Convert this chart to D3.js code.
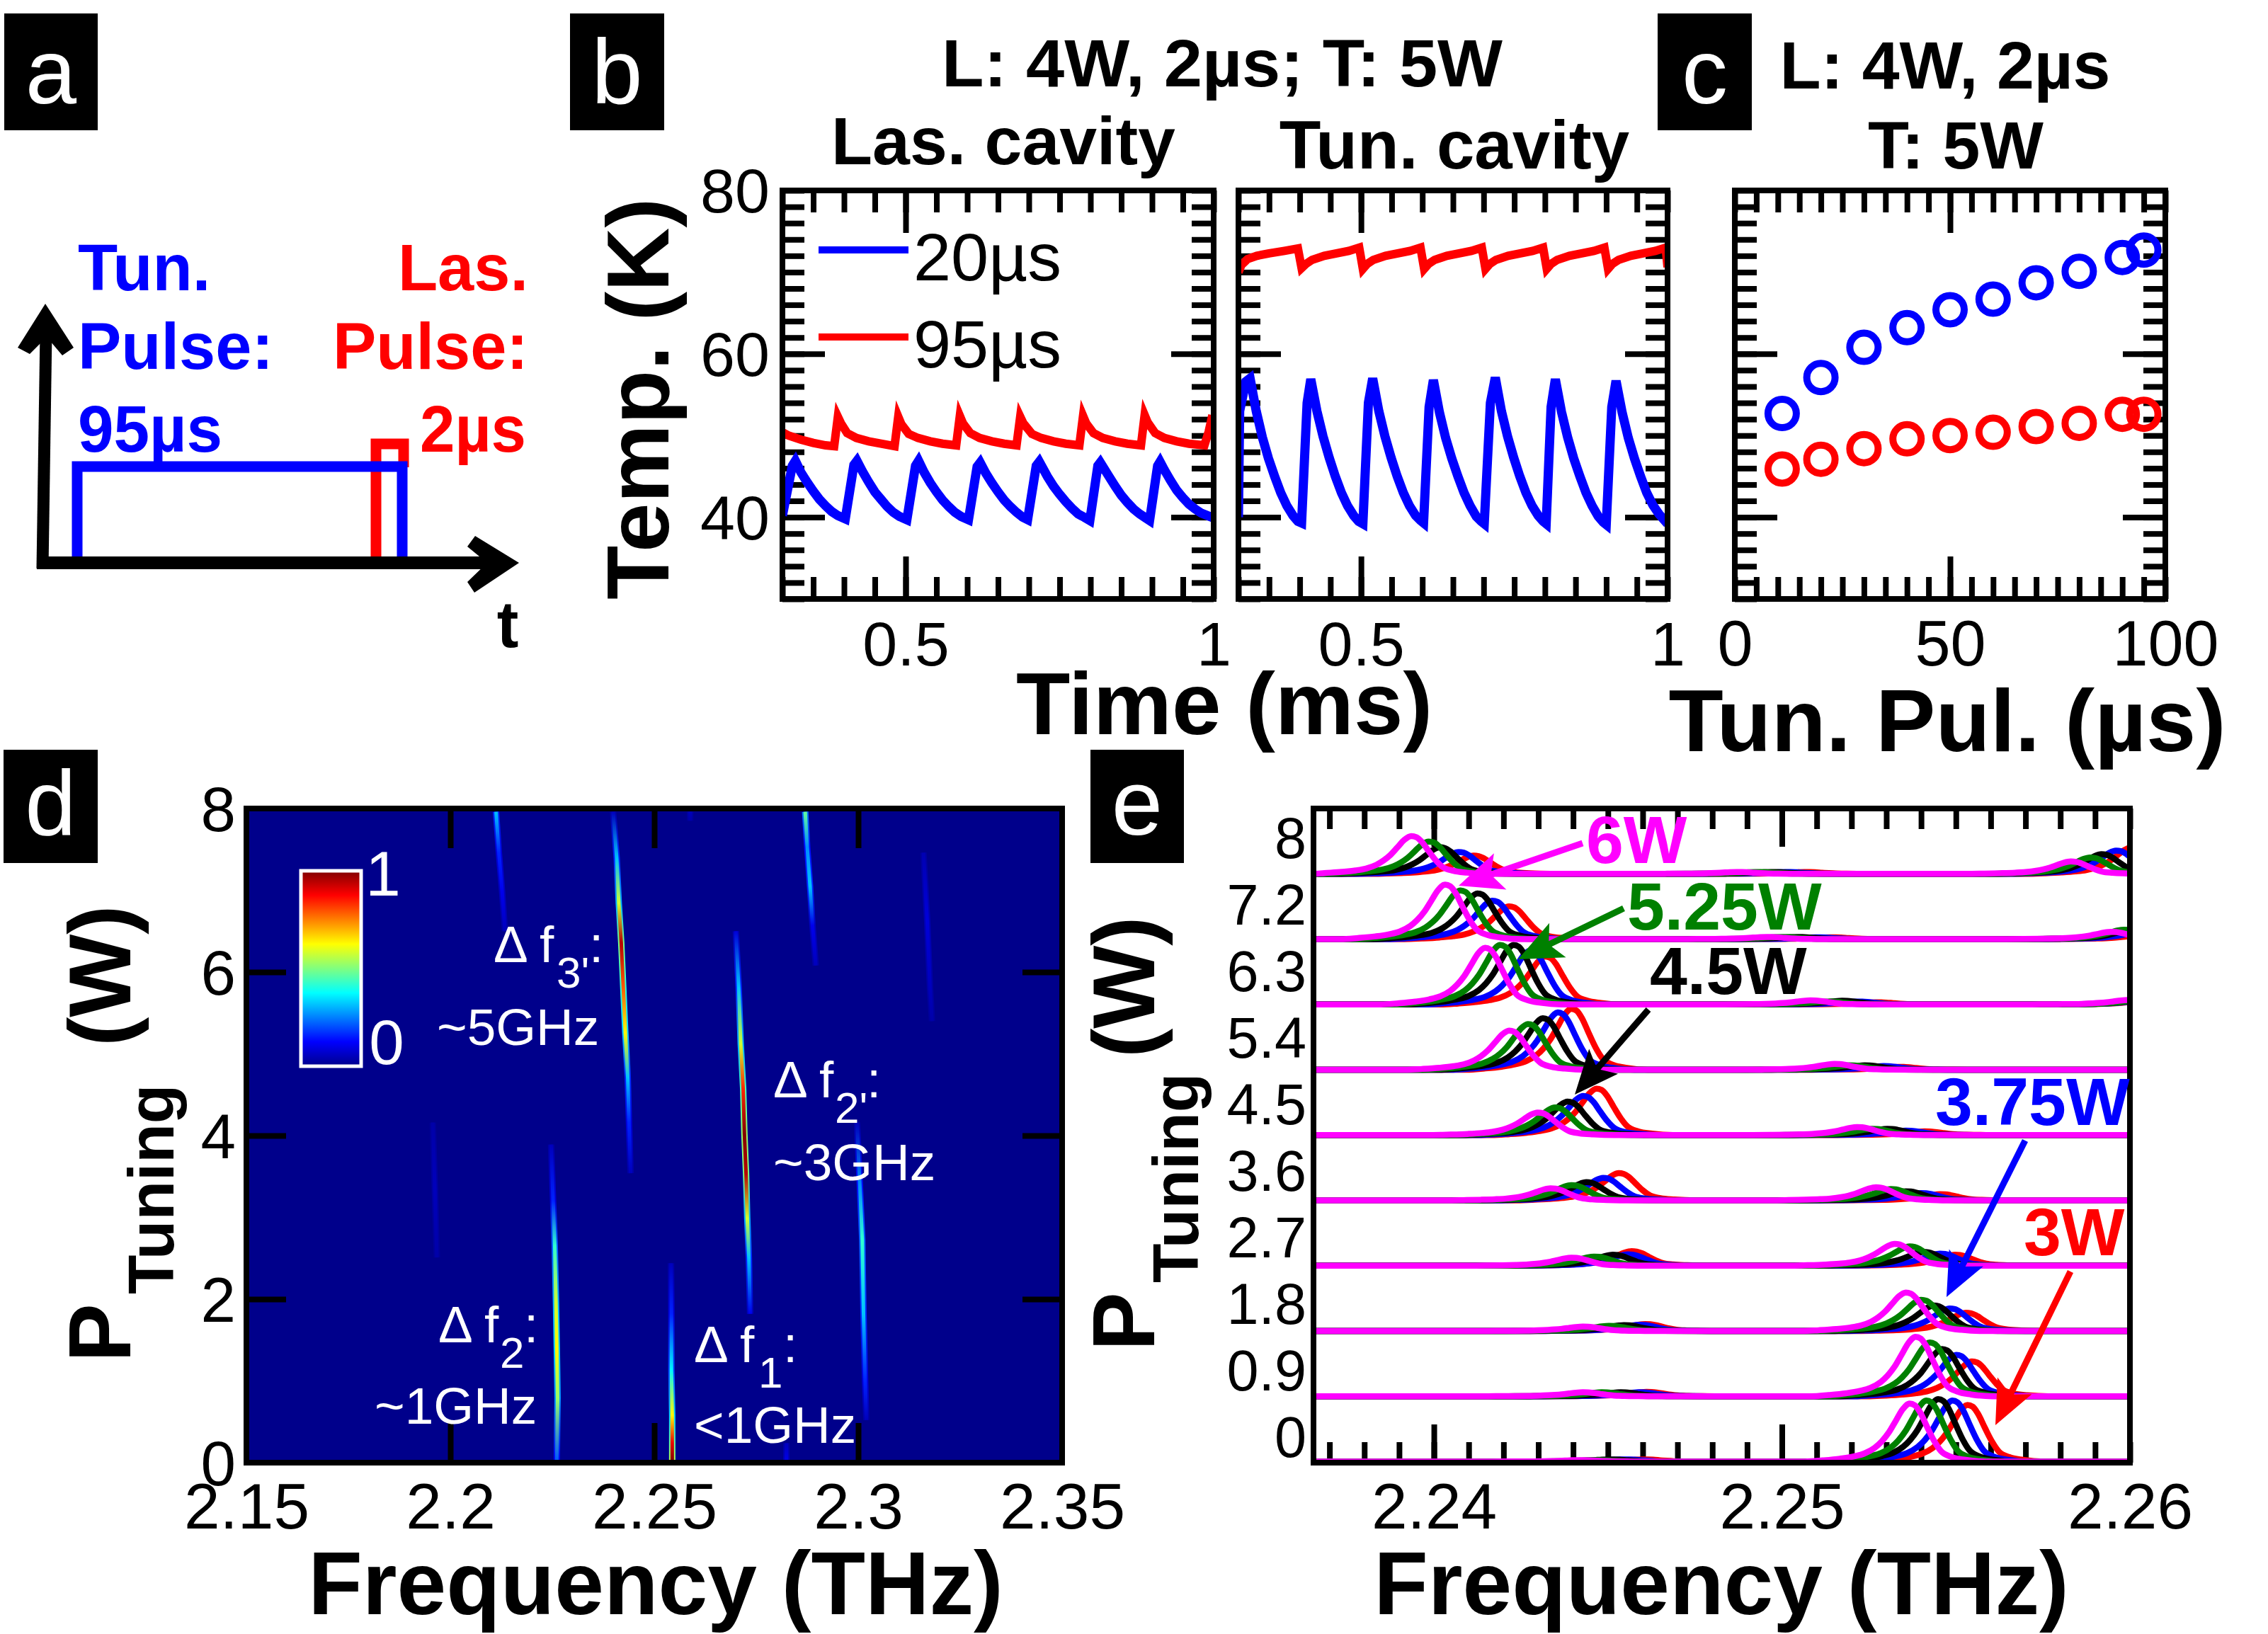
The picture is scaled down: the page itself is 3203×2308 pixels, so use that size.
<!DOCTYPE html>
<html><head><meta charset="utf-8">
<script src="https://cdn.jsdelivr.net/npm/d3@7/dist/d3.min.js"></script>
<style>html,body{margin:0;padding:0;background:#fff}svg{display:block}text{font-family:"Liberation Sans",Arial,sans-serif}</style>
</head><body><svg id="c" width="3203" height="2308"></svg>
<script>
// ---------- panel b data: [time ms, temperature K]
const lasBlue=[[.3,40.2],[.316,46.3],[.321,46.9],[.33,45.5],[.34,44.3],[.35,43.2],[.36,42.2],[.37,41.4],[.38,40.7],[.39,40.2],[.402,39.8],[.416,46.4],[.421,46.9],[.43,45.6],[.44,44.3],[.45,43.1],[.46,42.2],[.47,41.3],[.48,40.6],[.49,40.1],[.502,39.7],[.516,46.3],[.521,46.9],[.53,45.5],[.54,44.2],[.55,43.1],[.56,42.1],[.57,41.3],[.58,40.6],[.59,40.1],[.602,39.7],[.616,46.2],[.621,46.7],[.63,45.4],[.64,44.2],[.65,43.1],[.66,42.1],[.67,41.3],[.68,40.6],[.69,40],[.698,39.7],[.712,46.3],[.717,46.8],[.73,45],[.74,43.8],[.75,42.8],[.76,41.9],[.77,41.1],[.78,40.4],[.79,40],[.799,39.6],[.812,46.3],[.816,46.7],[.83,45],[.84,43.8],[.85,42.7],[.86,41.8],[.87,41],[.88,40.4],[.89,39.9],[.896,39.6],[.909,46.3],[.913,46.8],[.92,45.8],[.93,44.5],[.94,43.3],[.95,42.4],[.96,41.6],[.97,41],[.98,40.5],[.99,40.2],[1,39.9]];
const lasRed=[[.3,50.4],[.31,50],[.33,49.5],[.35,49.1],[.37,48.8],[.384,48.7],[.39,52.3],[.395,51.5],[.405,50.3],[.42,49.7],[.44,49.3],[.46,49],[.482,48.7],[.488,52.3],[.493,51.4],[.505,50.2],[.52,49.7],[.54,49.3],[.56,49],[.582,48.8],[.588,52.4],[.593,51.5],[.605,50.3],[.62,49.7],[.64,49.3],[.66,49],[.68,48.8],[.686,52.3],[.691,51.5],[.705,50.2],[.72,49.7],[.74,49.3],[.76,49],[.782,48.8],[.788,52.4],[.793,51.5],[.805,50.3],[.82,49.7],[.84,49.3],[.86,49],[.882,48.8],[.888,52.5],[.893,51.6],[.905,50.3],[.92,49.7],[.94,49.3],[.96,49],[.985,48.8],[.992,50.5],[.998,52.5]];
const tunBlue=[[.3,40],[.302,53],[.312,56.6],[.319,57],[.329,53],[.339,49.8],[.349,47.2],[.359,45],[.369,43],[.379,41.4],[.389,40.2],[.397,39.5],[.403,39.3],[.412,54],[.418,56.9],[.428,53],[.438,49.9],[.448,47.3],[.458,45],[.468,43],[.478,41.4],[.488,40.2],[.496,39.5],[.503,39.2],[.512,54],[.519,57],[.529,53],[.539,49.9],[.549,47.3],[.559,45],[.569,43],[.579,41.4],[.589,40.2],[.597,39.6],[.602,39.3],[.611,53.5],[.618,56.8],[.628,52.8],[.638,49.7],[.648,47.2],[.658,45],[.668,43],[.678,41.4],[.688,40.1],[.696,39.5],[.701,39.2],[.711,54],[.719,57.1],[.729,53],[.739,49.9],[.749,47.3],[.759,45],[.769,43],[.779,41.4],[.789,40.2],[.797,39.5],[.802,39.2],[.81,53.5],[.817,56.9],[.827,52.9],[.837,49.8],[.847,47.2],[.857,45],[.867,43],[.877,41.4],[.887,40.1],[.895,39.4],[.9,39.1],[.909,53.5],[.916,56.7],[.926,52.8],[.936,49.7],[.946,47.2],[.956,45],[.966,43],[.976,41.5],[.986,40.4],[.994,39.7],[1,39.2]];
const tunRed=[[.3,70],[.305,70.9],[.315,71.6],[.33,72],[.35,72.3],[.375,72.6],[.397,72.9],[.403,70.5],[.41,71],[.42,71.5],[.44,72],[.46,72.3],[.48,72.6],[.497,73],[.503,70.4],[.51,71],[.52,71.5],[.54,72],[.56,72.3],[.58,72.6],[.597,73],[.603,70.4],[.61,71],[.62,71.5],[.64,72],[.66,72.3],[.68,72.6],[.697,73],[.703,70.4],[.71,71],[.72,71.5],[.74,72],[.76,72.3],[.78,72.6],[.797,73],[.803,70.4],[.81,71],[.82,71.5],[.84,72],[.86,72.3],[.88,72.6],[.897,73],[.903,70.4],[.91,71],[.92,71.5],[.94,72],[.96,72.3],[.98,72.6],[.997,73],[1,70.6]];
const pulseWidths=[11,20,30,40,50,60,70,80,90,95];
const tempTun=[52.7,57.1,60.8,63.2,65.4,66.7,68.7,70.1,71.8,72.7];
const tempLas=[45.9,47.1,48.4,49.6,50,50.4,51.1,51.5,52.6,52.6];
// ---------- panel d data: streaks [freq, power, intensity]
const streaks=[
[[2.2541,2.44,.05],[2.2542,1.82,.15],[2.2542,1.13,.35],[2.2544,.58,.6],[2.2544,.24,.85],[2.2544,.02,1]],
[[2.2247,3.89,.05],[2.2252,3.2,.15],[2.2256,2.65,.4],[2.2259,1.96,.55],[2.2261,1.41,.6],[2.2263,.79,.5],[2.2261,.03,.2]],
[[2.27,6.5,.08],[2.2707,5.81,.3],[2.2712,5.12,.55],[2.2718,4.57,.8],[2.2721,4.02,.95],[2.2725,3.54,.9],[2.2728,2.99,.55],[2.2732,2.51,.3],[2.2735,1.82,.1]],
[[2.2399,7.96,.05],[2.2408,7.39,.3],[2.2413,6.84,.55],[2.2419,6.36,.9],[2.2424,5.81,.75],[2.2429,5.26,.6],[2.2435,4.71,.3],[2.2438,4.16,.15],[2.2442,3.54,.05]],
[[2.2997,4.16,.05],[2.3004,3.4,.25],[2.301,2.72,.4],[2.3013,1.82,.3],[2.3017,1,.15],[2.302,.52,.05]],
[[2.2112,7.96,.3],[2.2119,7.46,.15],[2.2127,6.98,.1],[2.2134,6.5,.05]],
[[2.287,7.96,.45],[2.2875,7.53,.25],[2.2882,7.05,.3],[2.2888,6.57,.1],[2.2896,6.08,.05]],
[[2.316,7.46,.04],[2.3169,6.64,.08],[2.3176,5.81,.05],[2.3181,5.4,.03]],
[[2.1957,4.16,.03],[2.1962,3.35,.05],[2.1967,2.51,.03]],
[[2.2824,.24,.05],[2.2824,0,.1]],
[[2.2588,7.96,.05],[2.2588,7.85,.03]]];
const jetStops=[0,.125,.375,.625,.875,1];
const jetColors=["#00008b","#0000ff","#00ffff","#ffff00","#ff0000","#800000"];
// ---------- panel e data. rows bottom to top; within a row: 3W, 3.75W, 4.5W, 5.25W, 6W
const powerNames=["3W","3.75W","4.5W","5.25W","6W"];
const powerColors=["#ff0000","#0000ff","#000000","#008000","#ff00ff"];
const rowPower=[0,.9,1.8,2.7,3.6,4.5,5.4,6.3,7.2,8.1];
const rowLabels=["0","0.9","1.8","2.7","3.6","4.5","5.4","6.3","7.2","8"];
const highFreq=[[2.25533,2.2549,2.25449,2.25415,2.25367],[2.25546,2.25501,2.2546,2.25425,2.25384],[2.25529,2.25482,2.25436,2.254,2.25356],[2.25497,2.25454,2.25406,2.25367,2.25324],[2.25454,2.254,2.25356,2.25313,2.2527],[2.2541,2.25356,2.25302,2.25259,2.25216],[2.25335,2.25292,2.25238,2.25194,2.25151],[2.2527,2.25216,2.25173,2.2513,2.25082],[2.2514,2.25097,2.25043,2.25,2.24957],[2.25065,2.2501,2.24968,2.24924,2.2487]];
const highHeight=[[.78,.84,.86,.84,.8],[.48,.57,.65,.74,.82],[.25,.31,.35,.43,.53],[.15,.165,.19,.265,.3],[.085,.1,.125,.155,.18],[.05,.06,.085,.085,.11],[.04,.05,.06,.06,.08],[.03,.04,.05,.04,.055],[.025,.025,.03,.03,.03],[.025,.025,.025,.025,.025]];
const lowFreq=[[2.246,2.24546,2.24503,2.2446,2.24417],[2.24611,2.2459,2.24536,2.24482,2.24428],[2.24607,2.2459,2.24546,2.24503,2.24428],[2.24568,2.24557,2.24514,2.2446,2.24395],[2.24531,2.24486,2.24438,2.24395,2.24335],[2.24467,2.24428,2.24384,2.24348,2.24298],[2.24395,2.24356,2.24313,2.2427,2.24216],[2.2432,2.24276,2.24229,2.2419,2.24147],[2.24216,2.24168,2.24125,2.24076,2.24032],[2.24114,2.24071,2.24017,2.23985,2.23935]];
const lowHeight=[[.03,.03,.03,.02,.02],[.06,.055,.055,.055,.055],[.095,.085,.08,.07,.06],[.2,.155,.15,.125,.11],[.375,.31,.25,.21,.165],[.64,.54,.46,.38,.31],[.84,.79,.71,.63,.54],[.66,.74,.82,.82,.78],[.45,.53,.63,.67,.75],[.25,.3,.365,.445,.52]];
const edgeFreq=[[],[],[],[],[],[],[],[2.2604,2.2603,2.2602,2.2603,2.25993],[2.2606,2.2603,2.26,2.25983,2.25946],[2.26004,2.2596,2.25918,2.25885,2.2583]];
const edgeHeight=[[],[],[],[],[],[],[],[.05,.05,.05,.06,.06],[.09,.1,.12,.13,.1],[.365,.32,.27,.225,.17]];
// line shape read from the isolated peaks: offset from peak (THz), relative height
const shapeOffset=[-.003,-.0025,-.002,-.0016,-.0013,-.001,-.0008,-.0006,-.0004,-.0002,0,.00015,.0003,.0005,.0007,.0009,.0012,.0016,.0022];
const shapeValue=[0,.02,.05,.09,.14,.24,.35,.5,.7,.9,1,.97,.85,.6,.36,.18,.08,.03,0];

const svg=d3.select("#c");
const FONT='"Liberation Sans",Arial,sans-serif';
function txt(s,x,y,size,opt={}){
  const t=svg.append("text").attr("x",x).attr("y",y).attr("font-size",size)
   .attr("font-family",FONT).attr("font-weight",opt.bold?"bold":"normal")
   .attr("fill",opt.fill||"#000").attr("text-anchor",opt.anchor||"start").text(s);
  if(opt.rotate) t.attr("transform",`rotate(-90 ${x} ${y})`);
  if(opt.len) t.attr("textLength",opt.len).attr("lengthAdjust","spacingAndGlyphs");
  return t;
}
function boxLabel(s,x0,x1,y0,y1,base){
  svg.append("rect").attr("x",x0).attr("y",y0).attr("width",x1-x0).attr("height",y1-y0).attr("fill","#000");
  txt(s,(x0+x1)/2,base,130,{fill:"#fff",anchor:"middle"});
}
function ticks(g,x,y,xVals,yVals,w){
  const [x0,x1]=x.range(),[y0,y1]=y.range();
  const style=s=>{s.select(".domain").remove();s.selectAll("line").attr("stroke","#000").attr("stroke-width",w);};
  xVals.forEach(([vals,len])=>{
    g.append("g").attr("transform",`translate(0,${y0})`).call(d3.axisBottom(x).tickValues(vals).tickSize(-len).tickFormat("")).call(style);
    g.append("g").attr("transform",`translate(0,${y1})`).call(d3.axisTop(x).tickValues(vals).tickSize(-len).tickFormat("")).call(style);
  });
  yVals.forEach(([vals,len])=>{
    g.append("g").attr("transform",`translate(${x0},0)`).call(d3.axisLeft(y).tickValues(vals).tickSize(-len).tickFormat("")).call(style);
    g.append("g").attr("transform",`translate(${x1},0)`).call(d3.axisRight(y).tickValues(vals).tickSize(-len).tickFormat("")).call(style);
  });
}
function labelsX(g,x,yPos,vals,fmt,size){
  const a=g.append("g").attr("transform",`translate(0,${yPos})`).call(d3.axisBottom(x).tickValues(vals).tickSize(0).tickPadding(0).tickFormat(fmt));
  a.select(".domain").remove();
  a.selectAll("text").attr("font-size",size).attr("font-family",FONT).attr("fill","#000").attr("dy",0).attr("y",0);
}
function labelsY(g,y,xPos,vals,fmt,size){
  const a=g.append("g").attr("transform",`translate(${xPos},0)`).call(d3.axisLeft(y).tickValues(vals).tickSize(0).tickPadding(0).tickFormat(fmt));
  a.select(".domain").remove();
  a.selectAll("text").attr("font-size",size).attr("font-family",FONT).attr("fill","#000").attr("x",0).attr("dy",".35em");
}
function frame(g,x,y,w){
  const [x0,x1]=x.range(),[y0,y1]=y.range();
  g.append("rect").attr("x",x0).attr("y",y1).attr("width",x1-x0).attr("height",y0-y1).attr("fill","none").attr("stroke","#000").attr("stroke-width",w);
}
let clipId=0;
function clip(g,x,y){
  const id="clip"+(clipId++),[x0,x1]=x.range(),[y0,y1]=y.range();
  g.append("clipPath").attr("id",id).append("rect").attr("x",x0).attr("y",y1).attr("width",x1-x0).attr("height",y0-y1);
  return g.append("g").attr("clip-path",`url(#${id})`);
}
function arrow(x1,y1,x2,y2,color){
  const dx=x2-x1,dy=y2-y1,L=Math.hypot(dx,dy),ux=dx/L,uy=dy/L,nx=-uy,ny=ux,h=62,hw=27;
  svg.append("line").attr("x1",x1).attr("y1",y1).attr("x2",x2-ux*30).attr("y2",y2-uy*30).attr("stroke",color).attr("stroke-width",9);
  const bx=x2-ux*h,by=y2-uy*h;
  svg.append("path").attr("fill",color).attr("d",`M${x2},${y2}L${bx+nx*hw},${by+ny*hw}L${bx+ux*14},${by+uy*14}L${bx-nx*hw},${by-ny*hw}Z`);
}

// ---------- panel labels
boxLabel("a",6,138,19,184,146);
boxLabel("b",805,938,19,184,146);
boxLabel("c",2341,2474,19,184,146);
boxLabel("d",5,138,1059,1219,1179);
boxLabel("e",1540,1672,1059,1219,1179);

// ---------- panel a
svg.append("path").attr("d","M531,795V627H570V660").attr("fill","none").attr("stroke","#ff0000").attr("stroke-width",15);
svg.append("path").attr("d","M109,795V659H568V795").attr("fill","none").attr("stroke","#0000ff").attr("stroke-width",15);
svg.append("path").attr("d","M60,803L65,470").attr("fill","none").attr("stroke","#000").attr("stroke-width",17);
svg.append("path").attr("d","M52,795H700").attr("fill","none").attr("stroke","#000").attr("stroke-width",18);
svg.append("path").attr("fill","#000").attr("d","M64,429L104,491L88,502L66,476L42,500L25,491Z");
svg.append("path").attr("fill","#000").attr("d","M733,795L671,757L660,772L688,795L660,822L670,837Z");
txt("Tun.",110,410,92,{bold:1,fill:"#0000ff"});
txt("Pulse:",110,521,92,{bold:1,fill:"#0000ff"});
txt("95µs",110,638,92,{bold:1,fill:"#0000ff",len:204});
txt("Las.",746,410,92,{bold:1,fill:"#ff0000",anchor:"end"});
txt("Pulse:",746,521,92,{bold:1,fill:"#ff0000",anchor:"end"});
txt("2µs",743,638,92,{bold:1,fill:"#ff0000",anchor:"end",len:150});
txt("t",717,914,92,{bold:1,anchor:"middle"});

// ---------- panel b
const tY=d3.scaleLinear().domain([30,80]).range([846,269]);
const xLas=d3.scaleLinear().domain([.3,1]).range([1105,1714]);
const xTun=d3.scaleLinear().domain([.3,1]).range([1749,2355]);
const minorT=d3.range(30,81,2), majorT=[40,60];
const minorMs=d3.range(.3,1.0001,.05), majorMs=[.5];
const tLine=x=>d3.line().x(d=>x(d[0])).y(d=>tY(d[1]));
[[xLas,lasBlue,lasRed],[xTun,tunBlue,tunRed]].forEach(([x,bl,rd])=>{
  const g=svg.append("g");
  ticks(g,x,tY,[[minorMs,31],[majorMs,60]],[[minorT,31],[majorT,60]],8);
  const c=clip(g,x,tY);
  c.append("path").datum(bl).attr("d",tLine(x)).attr("fill","none").attr("stroke","#0000ff").attr("stroke-width",13);
  c.append("path").datum(rd).attr("d",tLine(x)).attr("fill","none").attr("stroke","#ff0000").attr("stroke-width",12);
  frame(g,x,tY,8);
  labelsX(g,x,940,[.5,1],d=>d===1?"1":"0.5",88);
});
labelsY(svg.append("g"),tY,1087,[40,60,80],d=>d,88);
svg.append("line").attr("x1",1156).attr("x2",1283).attr("y1",353).attr("y2",353).attr("stroke","#0000ff").attr("stroke-width",10);
svg.append("line").attr("x1",1156).attr("x2",1283).attr("y1",476).attr("y2",476).attr("stroke","#ff0000").attr("stroke-width",10);
txt("20µs",1290,396,95,{len:209});
txt("95µs",1290,519,95,{len:209});
txt("L: 4W, 2µs; T: 5W",1726,122,95,{bold:1,anchor:"middle",len:792});
txt("Las. cavity",1417,232,95,{bold:1,anchor:"middle"});
txt("Tun. cavity",2054,238,96,{bold:1,anchor:"middle"});
txt("Temp. (K)",944,847,125,{bold:1,rotate:1});
txt("Time (ms)",1729,1037,125,{bold:1,anchor:"middle"});

// ---------- panel c
{
  const x=d3.scaleLinear().domain([0,100]).range([2450,3058]);
  const g=svg.append("g");
  ticks(g,x,tY,[[d3.range(0,101,5),31],[[50],60]],[[minorT,31],[majorT,60]],8);
  g.selectAll("circle.tun").data(pulseWidths).join("circle").attr("cx",d=>x(d)).attr("cy",(d,i)=>tY(tempTun[i])).attr("r",20).attr("fill","none").attr("stroke","#0000ff").attr("stroke-width",10);
  g.selectAll("circle.las").data(pulseWidths).join("circle").attr("cx",d=>x(d)).attr("cy",(d,i)=>tY(tempLas[i])).attr("r",20).attr("fill","none").attr("stroke","#ff0000").attr("stroke-width",10);
  frame(g,x,tY,8);
  labelsX(g,x,940,[0,50,100],d=>d,90);
}
txt("L: 4W, 2µs",2747,125,95,{bold:1,anchor:"middle",len:467});
txt("T: 5W",2762,238,95,{bold:1,anchor:"middle"});
txt("Tun. Pul. (µs)",2750,1061,125,{bold:1,anchor:"middle",len:787});

// ---------- panel d
{
  const x=d3.scaleLinear().domain([2.15,2.35]).range([348,1500]);
  const y=d3.scaleLinear().domain([0,8]).range([2066,1142]);
  const jet=d3.scaleLinear().domain(jetStops).range(jetColors);
  const g=svg.append("g");
  g.append("rect").attr("x",x(2.15)).attr("y",y(8)).attr("width",x(2.35)-x(2.15)).attr("height",y(0)-y(8)).attr("fill",jet(0));
  const defs=g.append("defs");
  const c=clip(g,x,y);
  const line=d3.line().x(d=>x(d[0])).y(d=>y(d[1]));
  streaks.forEach((s,k)=>{
    [["o",.55,9],["i",1.05,5]].forEach(([tag,f,w])=>{
      const id=`st${k}${tag}`,pt=s[0],pb=s[s.length-1];
      const grad=defs.append("linearGradient").attr("id",id).attr("gradientUnits","userSpaceOnUse")
        .attr("x1",0).attr("x2",0).attr("y1",y(pt[1])).attr("y2",y(pb[1]));
      s.forEach(d=>grad.append("stop").attr("offset",(y(d[1])-y(pt[1]))/(y(pb[1])-y(pt[1]))).attr("stop-color",jet(Math.min(1,d[2]*f))));
      c.append("path").datum(s).attr("d",line).attr("fill","none").attr("stroke",`url(#${id})`).attr("stroke-width",w);
    });
  });
  ticks(g,x,y,[[[2.2,2.25,2.3],56]],[[[2,4,6],56]],8);
  frame(g,x,y,8);
  labelsX(g,x,2159,[2.15,2.2,2.25,2.3,2.35],d=>String(d),91);
  labelsY(g,y,333,[0,2,4,6,8],d=>d,89);
  // colour bar
  const barY=d3.scaleLinear().domain([0,1]).range([1506,1230]);
  const bg=defs.append("linearGradient").attr("id","jetbar").attr("x1",0).attr("x2",0).attr("y1",1).attr("y2",0);
  jetStops.forEach((o,i)=>bg.append("stop").attr("offset",o).attr("stop-color",jetColors[i]));
  g.append("rect").attr("x",425).attr("y",barY(1)).attr("width",85).attr("height",barY(0)-barY(1)).attr("fill","url(#jetbar)").attr("stroke","#fff").attr("stroke-width",5);
}
txt("1",541,1265,89,{fill:"#fff",anchor:"middle"});
txt("0",546,1503,89,{fill:"#fff",anchor:"middle"});
function delta(x,y,sub,subx,colx){
  txt("Δ f",x,y,73,{fill:"#fff"}).attr("xml:space","preserve");
  txt(sub,subx,y+36,62,{fill:"#fff"});
  txt(":",colx,y,73,{fill:"#fff"});
}
delta(697,1359,"3'",786,832);
txt("~5GHz",617,1476,73,{fill:"#fff"});
delta(1092,1550,"2'",1179,1224);
txt("~3GHz",1092,1667,73,{fill:"#fff"});
delta(619,1896,"2",706,740);
txt("~1GHz",529,2011,73,{fill:"#fff"});
delta(980,1924,"1",1071,1106);
txt("<1GHz",980,2038,73,{fill:"#fff"});
txt("Frequency (THz)",926,2280,125.3,{bold:1,anchor:"middle"});
txt("P",184,1924,124,{bold:1,rotate:1});
txt("Tuning",245,1828,91,{bold:1,rotate:1});
txt("(W)",184,1478,124,{bold:1,rotate:1});

// ---------- panel e
{
  const x=d3.scaleLinear().domain([2.23654,2.26]).range([1855,3008]);
  const y=d3.scaleLinear().domain([-.015,9]).range([2066,1142]);
  const g=svg.append("g");
  ticks(g,x,y,[[d3.range(2.237,2.2601,.001),29],[[2.24,2.25],54]],[],8);
  const c=clip(g,x,y);
  const line=d3.line().x(d=>x(d[0])).y(d=>y(d[1])).curve(d3.curveMonotoneX);
  rowPower.forEach((P,r)=>{
    powerNames.forEach((name,p)=>{
      const peaks=[[lowFreq[r][p],lowHeight[r][p]],[highFreq[r][p],highHeight[r][p]]];
      if(edgeFreq[r].length) peaks.push([edgeFreq[r][p],edgeHeight[r][p]]);
      const pts=[[2.23654,P]];
      peaks.forEach(([f,h])=>shapeOffset.forEach((o,k)=>pts.push([f+o,P+h*shapeValue[k]])));
      pts.push([2.27,P]);
      pts.sort((a,b)=>a[0]-b[0]);
      c.append("path").datum(pts).attr("d",line).attr("fill","none").attr("stroke",powerColors[p]).attr("stroke-width",8.5).attr("stroke-linejoin","round");
    });
  });
  frame(g,x,y,8);
  labelsX(g,x,2159,[2.24,2.25,2.26],d=>String(d),91);
  const labelY=d3.scaleLinear().domain([0,8.1]).range([2029,1183]);
  labelsY(g,labelY,1845,rowPower,(d,i)=>rowLabels[i],81);
}
txt("6W",2240,1219,95,{bold:1,fill:"#ff00ff"});
txt("5.25W",2298,1313,95,{bold:1,fill:"#008000"});
txt("4.5W",2330,1404,95,{bold:1});
txt("3.75W",2733,1589,95,{bold:1,fill:"#0000ff"});
txt("3W",2858,1773,95,{bold:1,fill:"#ff0000"});
arrow(2235,1191,2060,1251,"#ff00ff");
arrow(2293,1283,2144,1355,"#008000");
arrow(2328,1426,2224,1546,"#000");
arrow(2860,1611,2749,1832,"#0000ff");
arrow(2924,1796,2818,2013,"#ff0000");
txt("Frequency (THz)",2431,2280,125.3,{bold:1,anchor:"middle"});
txt("P",1630,1908,124,{bold:1,rotate:1});
txt("Tuning",1692,1812,91,{bold:1,rotate:1});
txt("(W)",1630,1494,124,{bold:1,rotate:1});
</script></body></html>
